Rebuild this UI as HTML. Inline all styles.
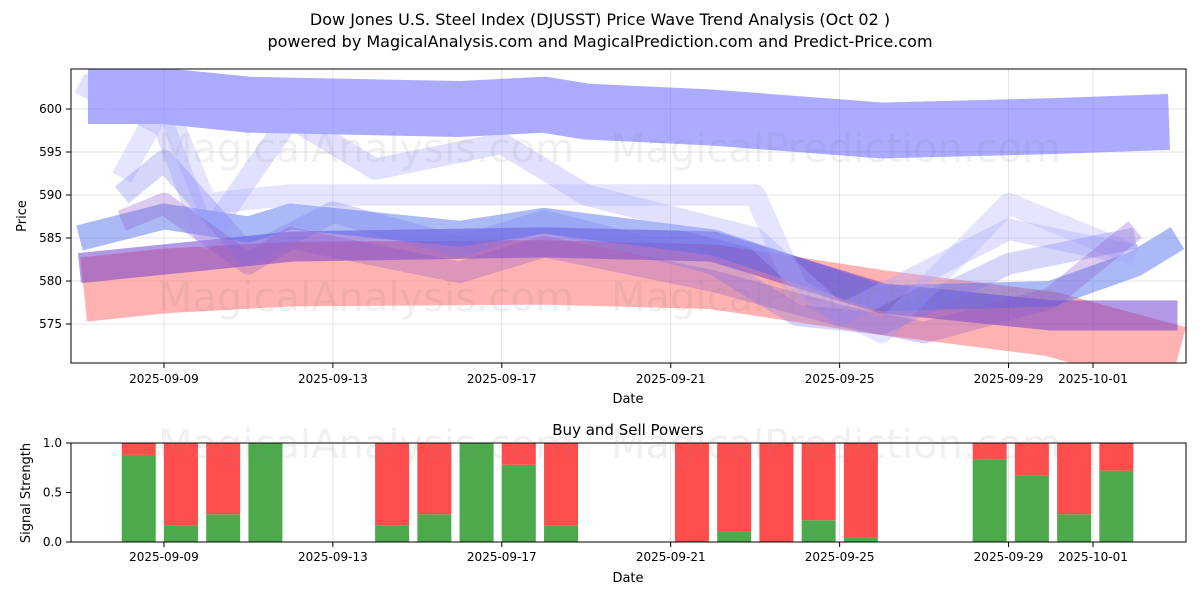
<!DOCTYPE html>
<html><head><meta charset="utf-8"><style>
body{margin:0;background:#fff;font-family:"Liberation Sans","DejaVu Sans",sans-serif}
svg text{font-family:"DejaVu Sans","Liberation Sans",sans-serif}
</style></head><body>
<svg id="c" width="1200" height="600" viewBox="0 0 1200 600">
<text x="600" y="25" text-anchor="middle" font-size="16">Dow Jones U.S. Steel Index (DJUSST) Price Wave Trend Analysis (Oct 02 )</text>
<text x="600" y="47" text-anchor="middle" font-size="16">powered by MagicalAnalysis.com and MagicalPrediction.com and Predict-Price.com</text>
<defs><clipPath id="cp"><rect x="71" y="69" width="1115" height="294"/></clipPath></defs>
<g id="topg" clip-path="url(#cp)"></g>
<g id="topaxis"></g>
<g id="bot"></g>
<text x="366" y="162" font-size="40" fill="#888" opacity="0.12" text-anchor="middle">MagicalAnalysis.com</text>
<text x="836" y="162" font-size="40" fill="#888" opacity="0.12" text-anchor="middle">MagicalPrediction.com</text>
<text x="366" y="311" font-size="40" fill="#888" opacity="0.12" text-anchor="middle">MagicalAnalysis.com</text>
<text x="836" y="311" font-size="40" fill="#888" opacity="0.12" text-anchor="middle">MagicalPrediction.com</text>
<text x="366" y="458" font-size="40" fill="#888" opacity="0.12" text-anchor="middle">MagicalAnalysis.com</text>
<text x="836" y="458" font-size="40" fill="#888" opacity="0.12" text-anchor="middle">MagicalPrediction.com</text>
</svg>
<script>
const tickDays=[2,6,10,14,18,22,24];
const tickLabels=["2025-09-09","2025-09-13","2025-09-17","2025-09-21","2025-09-25","2025-09-29","2025-10-01"];
const yTicks=[575,580,585,590,595,600];
const bandDays=[[0.2,2,4,9,11,12,15,19,23,25.8],[0.1,2,5,11,15,19,23,26],[0,2,5,11,15,19,23,26],[0,2,4,5,9,11,15,19,23,25,26],[0,2,3,5,7,10,12,16,18,22,25],[1,2,3,5,10,16,17,19,22,25],[1,2,4,6,9,11,15,17,19,22,25],[1,2,4,5,9,11,15,18,20,23,25]];
const bandVals=[[601.5,601.5,600.5,600,600.5,599.7,599,597.5,598,598.5],[579,580,580.8,581,580.5,577.5,575,571],[581.5,582.5,584,584.5,584,578,576,576],[585,587.5,586,587.5,585.5,587,584.5,578,578.5,582,585],[603,598,585,599,593,596,590,585,576,586,583],[592,601,589,590,590,590,579,574,589,583],[590,594,583,588,584,587,582,576,575,582,585],[587,589,582,585,581,584,580,576,574,578,586]];
const bandColors=["#6666ff","#ff6666","#6633cc","#4466ee","#aaaaff","#aaaaff","#7777ee","#8855cc"];
const bandOps=[0.55,0.5,0.5,0.45,0.35,0.3,0.3,0.3];
const bandWidths=[6.5,7.5,3.5,3,2.5,2.5,2.5,2.5];
const barDays=[1,2,3,4,7,8,9,10,11,14.1,15.1,16.1,17.1,18.1,21.15,22.15,23.15,24.15];
const buyVals=[0.88,0.17,0.28,1.0,0.17,0.28,1.0,0.78,0.17,0,0.11,0,0.22,0.05,0.83,0.67,0.28,0.72];
const NS="http://www.w3.org/2000/svg";
const X=d=>79.5+42.23*d;
const Y=v=>324-(v-575)*8.6;
const YB=v=>542-v*99;
function mk(t,a,p){const e=document.createElementNS(NS,t);for(const k in a)e.setAttribute(k,a[k]);p.appendChild(e);return e;}
const topG=document.getElementById('topg'),ta=document.getElementById('topaxis'),bot=document.getElementById('bot');
tickDays.forEach(d=>{mk('line',{x1:X(d),x2:X(d),y1:69,y2:363,stroke:'#ddd','stroke-width':0.8},topG);mk('line',{x1:X(d),x2:X(d),y1:443,y2:542,stroke:'#ddd','stroke-width':0.8},bot);});
yTicks.forEach(v=>mk('line',{x1:71,x2:1186,y1:Y(v),y2:Y(v),stroke:'#ddd','stroke-width':0.8},topG));
bandDays.forEach((ds,i)=>{
 const p=mk('polyline',{points:ds.map((d,j)=>X(d)+','+Y(bandVals[i][j])).join(' '),fill:'none',stroke:bandColors[i],'stroke-opacity':bandOps[i],'stroke-width':bandWidths[i]*8.6,'stroke-linejoin':'round'},topG);
 
 
});
mk('rect',{x:71,y:69,width:1115,height:294,fill:'none',stroke:'#000','stroke-width':1},ta);
yTicks.forEach(v=>{mk('line',{x1:66,x2:71,y1:Y(v),y2:Y(v),stroke:'#000'},ta);const t=mk('text',{x:62,y:Y(v)+4,'font-size':12,'text-anchor':'end'},ta);t.textContent=v;});
tickDays.forEach((d,i)=>{mk('line',{x1:X(d),x2:X(d),y1:363,y2:368,stroke:'#000'},ta);const t=mk('text',{x:X(d),y:383,'font-size':12,'text-anchor':'middle'},ta);t.textContent=tickLabels[i];
 mk('line',{x1:X(d),x2:X(d),y1:542,y2:547,stroke:'#000'},bot);const t2=mk('text',{x:X(d),y:561,'font-size':12,'text-anchor':'middle'},bot);t2.textContent=tickLabels[i];});
let t=mk('text',{x:628,y:403,'font-size':13,'text-anchor':'middle'},ta);t.textContent='Date';
t=mk('text',{x:26,y:216,'font-size':13,'text-anchor':'middle',transform:'rotate(-90 26 216)'},ta);t.textContent='Price';
barDays.forEach((d,i)=>{
 const b=buyVals[i],x=X(d);
 const g=mk('rect',{x:x,y:YB(b),width:34,height:YB(0)-YB(b),fill:'#4caa4c'},bot);
 
 
 const r=mk('rect',{x:x,y:YB(1),width:34,height:YB(b)-YB(1),fill:'#ff4d4d'},bot);
 
 
});
mk('rect',{x:71,y:443,width:1115,height:99,fill:'none',stroke:'#000'},bot);
[[0,'0.0'],[0.5,'0.5'],[1,'1.0']].forEach(([v,l])=>{mk('line',{x1:66,x2:71,y1:YB(v),y2:YB(v),stroke:'#000'},bot);const tt=mk('text',{x:62,y:YB(v)+4,'font-size':12,'text-anchor':'end'},bot);tt.textContent=l;});
t=mk('text',{x:628,y:435,'font-size':15,'text-anchor':'middle'},bot);t.textContent='Buy and Sell Powers';
t=mk('text',{x:628,y:582,'font-size':13,'text-anchor':'middle'},bot);t.textContent='Date';
t=mk('text',{x:30,y:493,'font-size':13,'text-anchor':'middle',transform:'rotate(-90 30 493)'},bot);t.textContent='Signal Strength';
</script>
</body></html>
